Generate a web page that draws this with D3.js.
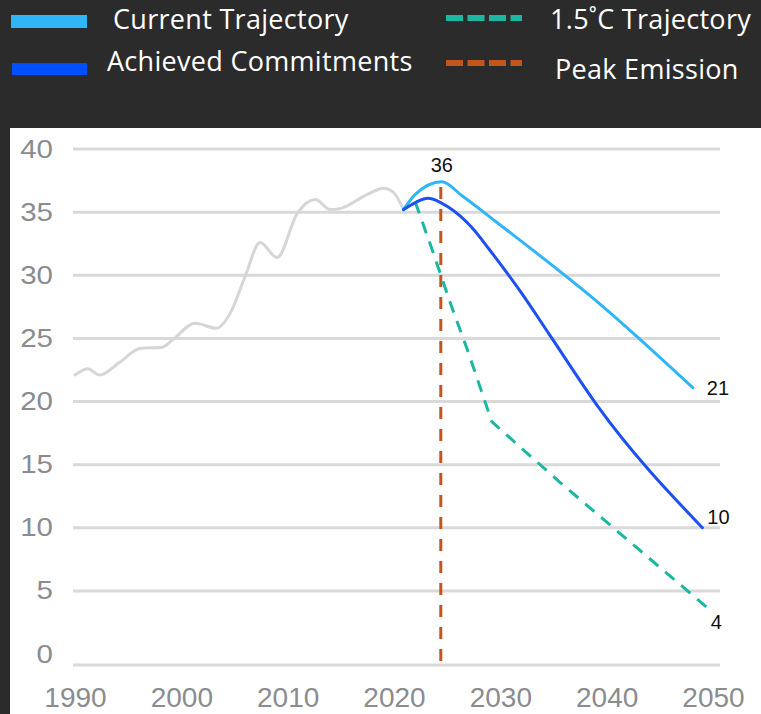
<!DOCTYPE html>
<html>
<head>
<meta charset="utf-8">
<style>
	html, body { margin: 0; padding: 0; background: #2b2b2b; }
	svg { display: block; }
	.grid line { stroke: #d9d9d9; stroke-width: 3px; }
	.axis text { fill: #8a8c90; font-family: "Liberation Sans", Arial, sans-serif; }
	.line { fill: none; stroke-width: 3px; stroke-linejoin: round; stroke-linecap: round; }
	.legend text { fill: #ffffff; font-family: "Open Sans", sans-serif; font-size: 27px; letter-spacing: 0.3px; }
	.value-label { fill: #111; font-family: "Liberation Sans", Arial, sans-serif; font-size: 20px; }
</style>
</head>
<body>
<div id="chart"></div>
<script src="https://cdn.jsdelivr.net/npm/d3@7"></script>
<script>
// emissions (Gt CO2)
var histYears = [1990, 1991.2, 1992.3, 1994.2, 1996.1, 1998.2, 1999.2, 2001.3, 2003.3, 2004.6, 2006, 2007.4, 2009, 2010.9, 2012.6, 2014, 2015, 2017.5, 2019, 2019.9, 2020.9];
var histValues = [22.1, 22.6, 22.1, 23.1, 24.2, 24.3, 24.9, 26.2, 25.8, 27.0, 29.9, 32.6, 31.4, 34.9, 36.0, 35.2, 35.3, 36.4, 36.9, 36.6, 35.2];

var currentYears = [2020.9, 2022, 2024.5, 2026.4, 2029.5, 2039.4, 2048.1];
var currentValues = [35.2, 36.4, 37.4, 36.3, 34.3, 27.7, 21.1];

var achievedYears = [2020.9, 2022.1, 2023.2, 2025.1, 2027.3, 2029, 2031.9, 2034.7, 2039.1, 2049];
var achievedValues = [35.2, 35.8, 36.1, 35.4, 33.8, 32.0, 28.7, 25.2, 19.7, 10.0];

var targetYears = [2022, 2023.6, 2025.3, 2026.9, 2029.2, 2035.6, 2049.7];
var targetValues = [35.8, 32.0, 27.8, 24.1, 18.4, 13.6, 3.5];

var peakYear = 2024.4;
var peakTop = 37;
var peakLabel = 36;

var xTicks = [1990, 2000, 2010, 2020, 2030, 2040, 2050];
var yTicks = [0, 5, 10, 15, 20, 25, 30, 35, 40];

var legendNames = ["Current Trajectory", "Achieved Commitments", "1.5\u02DAC Trajectory", "Peak Emission"];

(function () {
	"use strict";

	var canvasWidth = 761,
		canvasHeight = 714,
		margin = {top: 149, right: 48, bottom: 60, left: 75},
		width = canvasWidth - margin.left - margin.right,
		height = 654 - margin.top,
		baseDrop = 11,
		colors = {
			current: "#2fb6f7",
			achieved: "#1d4ff2",
			target: "#1cb7a3",
			peak: "#c4561c",
			hist: "#d6d6d6"
		};

	var svg = d3.select("#chart").append("svg")
		.attr("width", canvasWidth)
		.attr("height", canvasHeight);

	// dark header, white plot panel
	svg.append("rect")
		.attr("width", canvasWidth)
		.attr("height", canvasHeight)
		.attr("fill", "#2b2b2b");
	svg.append("rect")
		.attr("x", 10)
		.attr("y", 128)
		.attr("width", canvasWidth - 10)
		.attr("height", canvasHeight - 128)
		.attr("fill", "#ffffff");

	var graph = svg.append("g").attr("transform", "translate(" + margin.left + "," + margin.top + ")");

	var x = d3.scaleLinear().domain([1990, 2050]).range([0, width]),
		y = d3.scaleLinear().domain([0, 40]).range([height, 0]);

	function zip(years, values) {
		return years.map(function (yr, i) { return {year: yr, value: values[i]}; });
	}

	function drawAxes() {
		// gridlines; the zero line sits a little lower, like the original
		graph.append("g")
			.attr("class", "grid")
			.selectAll("line")
			.data(yTicks)
			.enter().append("line")
			.attr("x1", -2)
			.attr("x2", width + 7)
			.attr("y1", function (d) { return d === 0 ? y(d) + baseDrop : y(d); })
			.attr("y2", function (d) { return d === 0 ? y(d) + baseDrop : y(d); });

		var yAxis = graph.append("g")
			.attr("class", "axis axis--y")
			.call(d3.axisLeft(y).tickValues(yTicks).tickSize(0).tickPadding(22));
		yAxis.select(".domain").remove();
		// the y labels in the original are stretched sideways
		yAxis.selectAll("text")
			.style("font-size", "25px")
			.attr("x", 0)
			.attr("transform", "translate(-22,0) scale(1.18,1)");

		var xAxis = graph.append("g")
			.attr("class", "axis axis--x")
			.attr("transform", "translate(0," + (height + baseDrop) + ")")
			.call(d3.axisBottom(x).tickValues(xTicks).tickFormat(d3.format("d")).tickSize(0).tickPadding(22));
		xAxis.select(".domain").remove();
		xAxis.selectAll("text").style("font-size", "28px");
	}

	function drawLines() {
		var line = d3.line()
			.curve(d3.curveMonotoneX)
			.x(function (d) { return x(d.year); })
			.y(function (d) { return y(d.value); });

		var straight = d3.line()
			.x(function (d) { return x(d.year); })
			.y(function (d) { return y(d.value); });

		graph.append("path")
			.datum(zip(histYears, histValues))
			.attr("class", "line")
			.attr("stroke", colors.hist)
			.attr("d", line);

		graph.append("line")
			.attr("x1", x(peakYear))
			.attr("x2", x(peakYear))
			.attr("y1", y(peakTop))
			.attr("y2", y(0) + baseDrop)
			.attr("stroke", colors.peak)
			.attr("stroke-width", 3)
			.attr("stroke-dasharray", "12,10");

		graph.append("path")
			.datum(zip(targetYears, targetValues))
			.attr("class", "line")
			.attr("stroke", colors.target)
			.attr("stroke-dasharray", "12,9")
			.style("stroke-linecap", "butt")
			.attr("d", straight);

		graph.append("path")
			.datum(zip(currentYears, currentValues))
			.attr("class", "line")
			.attr("stroke", colors.current)
			.attr("d", line);

		graph.append("path")
			.datum(zip(achievedYears, achievedValues))
			.attr("class", "line")
			.attr("stroke", colors.achieved)
			.attr("d", line);

		// value labels
		graph.append("text")
			.attr("class", "value-label")
			.attr("x", x(peakYear) + 1)
			.attr("y", y(peakTop) - 15)
			.attr("text-anchor", "middle")
			.text(peakLabel);

		var ends = [
			{years: currentYears, values: currentValues, dx: 14, dy: 0},
			{years: achievedYears, values: achievedValues, dx: 5, dy: -11},
			{years: targetYears, values: targetValues, dx: 1, dy: 12}
		];
		ends.forEach(function (e) {
			var n = e.years.length - 1;
			graph.append("text")
				.attr("class", "value-label")
				.attr("x", x(e.years[n]) + e.dx)
				.attr("y", y(e.values[n]) + e.dy)
				.attr("dy", "0.35em")
				.text(Math.round(e.values[n]));
		});
	}

	function drawLegend() {
		var legend = svg.append("g").attr("class", "legend");

		legend.append("rect").attr("x", 11).attr("y", 15).attr("width", 76).attr("height", 13).attr("fill", colors.current);
		legend.append("rect").attr("x", 12).attr("y", 63).attr("width", 75).attr("height", 12).attr("fill", "#0050ff");

		legend.append("line").attr("x1", 446).attr("x2", 522).attr("y1", 18).attr("y2", 18)
			.attr("stroke", colors.target).attr("stroke-width", 6).attr("stroke-dasharray", "17,4.5");
		legend.append("line").attr("x1", 446).attr("x2", 522).attr("y1", 63).attr("y2", 63)
			.attr("stroke", colors.peak).attr("stroke-width", 6).attr("stroke-dasharray", "17,4.5");

		legend.append("text").attr("x", 113).attr("y", 29).text(legendNames[0]);
		legend.append("text").attr("x", 107).attr("y", 71).text(legendNames[1]);
		legend.append("text").attr("x", 550).attr("y", 29).text(legendNames[2]);
		legend.append("text").attr("x", 555).attr("y", 79).text(legendNames[3]);
	}

	drawAxes();
	drawLines();
	drawLegend();
})();
</script>
</body>
</html>
